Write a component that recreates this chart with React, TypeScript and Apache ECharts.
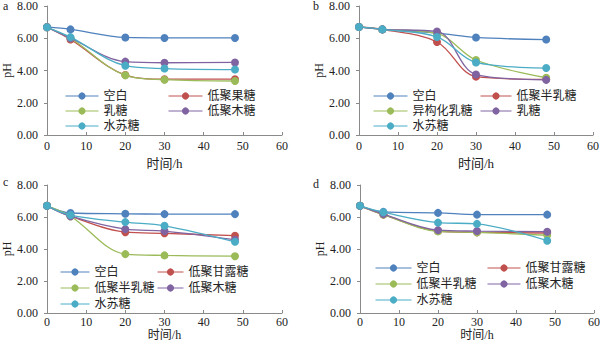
import React, { useEffect, useRef } from "react";
import * as echarts from "echarts";

const times = [0, 6, 20, 30, 48];
const xTicks = [0, 10, 20, 30, 40, 50, 60];

// Panel a
const aNames = ["空白", "低聚果糖", "乳糖", "低聚木糖", "水苏糖"];
const aBlank = [6.7, 6.55, 6.05, 6.02, 6.02];
const aFOS = [6.68, 5.92, 3.72, 3.46, 3.46];
const aLactose = [6.68, 6.0, 3.7, 3.43, 3.35];
const aXOS = [6.68, 6.0, 4.55, 4.48, 4.5];
const aSta = [6.68, 6.07, 4.3, 4.12, 4.06];

// Panel b
const bNames = ["空白", "低聚半乳糖", "异构化乳糖", "乳糖", "水苏糖"];
const bBlank = [6.7, 6.55, 6.32, 6.05, 5.92];
const bGOS = [6.7, 6.55, 5.77, 3.62, 3.45];
const bIsoLac = [6.7, 6.55, 6.3, 4.65, 3.55];
const bLactose = [6.7, 6.55, 6.42, 3.75, 3.42];
const bSta = [6.7, 6.55, 6.08, 4.5, 4.15];

// Panel c
const cNames = ["空白", "低聚甘露糖", "低聚半乳糖", "低聚木糖", "水苏糖"];
const cBlank = [6.7, 6.25, 6.2, 6.18, 6.18];
const cMOS = [6.7, 6.05, 5.05, 4.98, 4.83];
const cGOS = [6.7, 6.05, 3.68, 3.6, 3.55];
const cXOS = [6.7, 6.05, 5.24, 5.12, 4.58];
const cSta = [6.7, 6.12, 5.68, 5.45, 4.45];

// Panel d
const dNames = ["空白", "低聚甘露糖", "低聚半乳糖", "低聚木糖", "水苏糖"];
const dBlank = [6.7, 6.32, 6.26, 6.15, 6.15];
const dMOS = [6.7, 6.15, 5.12, 5.04, 5.0];
const dGOS = [6.7, 6.15, 5.1, 5.04, 4.86];
const dXOS = [6.7, 6.18, 5.18, 5.12, 5.08];
const dSta = [6.7, 6.3, 5.65, 5.57, 4.52];

const panelLetters = ["a", "b", "c", "d"];
const colors = ["#4F81BD", "#C0504D", "#9BBB59", "#8064A2", "#4BACC6"];

const FONT = "'Liberation Serif', 'Noto Sans CJK SC', serif";
const AXIS_COLOR = "#8a8a8a";
const TEXT_COLOR = "#222";

export default function App() {
  const ref = useRef<HTMLDivElement>(null);

  useEffect(() => {
    if (!ref.current) return;
    const chart = echarts.init(ref.current, undefined, { renderer: "svg" });

    const panels = [
      { names: aNames, data: [aBlank, aFOS, aLactose, aXOS, aSta] },
      { names: bNames, data: [bBlank, bGOS, bIsoLac, bLactose, bSta] },
      { names: cNames, data: [cBlank, cMOS, cGOS, cXOS, cSta] },
      { names: dNames, data: [dBlank, dMOS, dGOS, dXOS, dSta] },
    ];

    const grids = [
      { left: 47, top: 6, width: 235, height: 129 },
      { left: 359, top: 6, width: 234, height: 129 },
      { left: 47, top: 185, width: 235, height: 128 },
      { left: 360, top: 185, width: 234, height: 128 },
    ];
    const xNameGaps = [22, 22, 13, 13];

    const legendPos = [
      [
        { left: 65, top: 90, itemWidth: 33 },
        { left: 168, top: 90, itemWidth: 34 },
      ],
      [
        { left: 373, top: 90, itemWidth: 34 },
        { left: 480, top: 90, itemWidth: 31 },
      ],
      [
        { left: 60, top: 266, itemWidth: 29 },
        { left: 157, top: 266, itemWidth: 26 },
      ],
      [
        { left: 375, top: 262, itemWidth: 36 },
        { left: 487, top: 262, itemWidth: 33 },
      ],
    ];
    const itemGaps = [3, 3, 4, 4];

    const xAxes: any[] = [];
    const yAxes: any[] = [];
    const series: any[] = [];
    const legends: any[] = [];

    panels.forEach((p, pi) => {
      xAxes.push({
        gridIndex: pi,
        type: "value",
        min: 0,
        max: 60,
        interval: 10,
        name: "时间/h",
        nameLocation: "middle",
        nameGap: xNameGaps[pi],
        nameTextStyle: { fontFamily: FONT, fontSize: pi < 2 ? 13 : 12, color: TEXT_COLOR },
        axisLine: { show: true, lineStyle: { color: AXIS_COLOR, width: 1 } },
        axisTick: { show: true, inside: true, length: 3, lineStyle: { color: AXIS_COLOR } },
        axisLabel: {
          fontFamily: FONT,
          fontSize: 12,
          color: TEXT_COLOR,
          margin: pi < 2 ? 5 : 3,
          formatter: (v: number) => (xTicks.includes(v) ? String(v) : ""),
        },
        splitLine: { show: false },
      });
      yAxes.push({
        gridIndex: pi,
        type: "value",
        min: 0,
        max: 8,
        interval: 2,
        name: "pH",
        nameLocation: "middle",
        nameGap: 32,
        nameTextStyle: { fontFamily: FONT, fontSize: 12, color: TEXT_COLOR },
        axisLine: { show: true, lineStyle: { color: AXIS_COLOR, width: 1 } },
        axisTick: { show: true, length: 3, lineStyle: { color: AXIS_COLOR } },
        axisLabel: {
          fontFamily: FONT,
          fontSize: 12,
          color: TEXT_COLOR,
          margin: 9,
          formatter: (v: number) => v.toFixed(2),
        },
        splitLine: { show: false },
      });
      p.data.forEach((vals, si) => {
        series.push({
          type: "line",
          name: p.names[si],
          xAxisIndex: pi,
          yAxisIndex: pi,
          smooth: 0.35,
          symbol: "circle",
          symbolSize: 8,
          lineStyle: { color: colors[si], width: 1.3 },
          itemStyle: { color: colors[si] },
          data: times.map((t, i) => [t, vals[i]]),
          z: 2 + si,
        });
      });
      const cols = [
        [0, 2, 4],
        [1, 3],
      ];
      cols.forEach((idxs, ci) => {
        const lp = legendPos[pi][ci];
        legends.push({
          orient: "vertical",
          left: lp.left,
          top: lp.top,
          itemWidth: lp.itemWidth,
          itemHeight: 9,
          itemGap: itemGaps[pi],
          padding: 0,
          selectedMode: false,
          textStyle: { fontFamily: FONT, fontSize: 12, color: TEXT_COLOR },
          data: idxs.map((si) => ({
            name: p.names[si],
            itemStyle: { color: colors[si] },
            lineStyle: { color: colors[si], width: 1 },
          })),
        });
      });
    });

    const letterPos = [
      [3, 0],
      [313, 0],
      [3, 176],
      [313, 178],
    ];

    chart.setOption({
      animation: false,
      backgroundColor: "#ffffff",
      grid: grids.map((g) => ({ ...g, outerBoundsMode: "none", containLabel: false })),
      xAxis: xAxes,
      yAxis: yAxes,
      legend: legends,
      series,
      graphic: panelLetters.map((l, i) => ({
        type: "text",
        left: letterPos[i][0],
        top: letterPos[i][1],
        style: { text: l, fontFamily: FONT, fontSize: 12, fill: TEXT_COLOR },
      })),
    });

    return () => chart.dispose();
  }, []);

  return (
    <div
      ref={ref}
      style={{ position: "absolute", left: 0, top: 0, width: 600, height: 344, background: "#fff" }}
    />
  );
}
